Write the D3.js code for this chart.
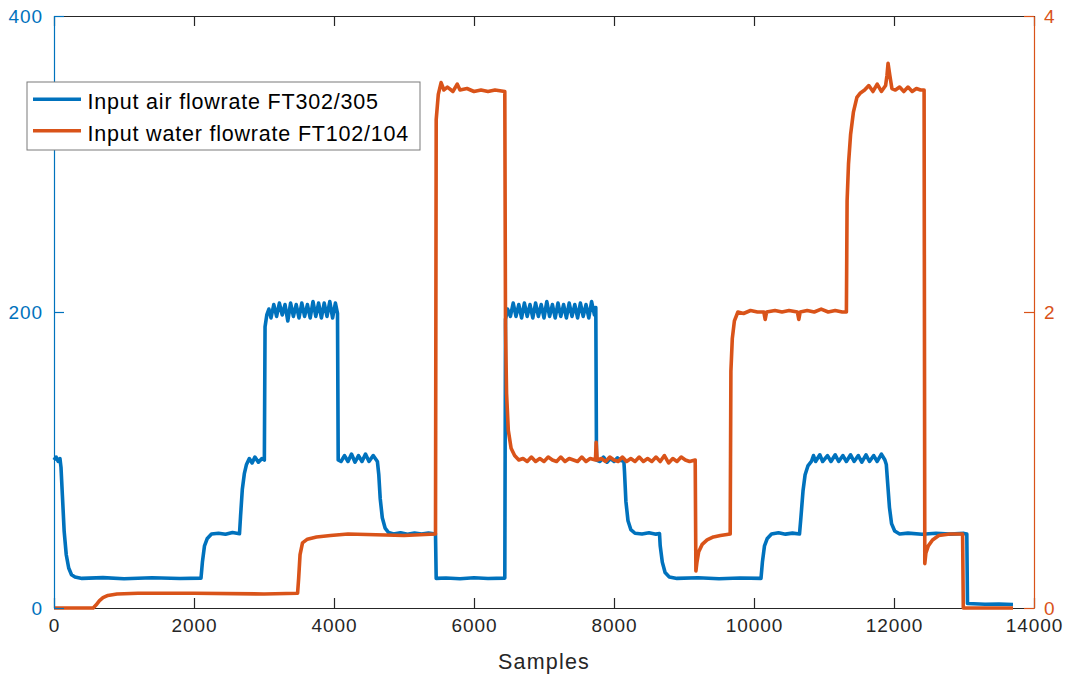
<!DOCTYPE html>
<html>
<head>
<meta charset="utf-8">
<script src="https://cdn.jsdelivr.net/npm/d3@7"></script>
<style>
  body { margin: 0; background: #fff; }
  svg { font-family: "Liberation Sans", Arial, sans-serif; }
</style>
</head>
<body>
<svg id="chart" width="1068" height="676"></svg>
<script>
// sample index / value pairs
var airFlow = [
  [0,100],[30,102],[60,99],[85,101],[100,95],[120,76],[145,52],[175,36],[210,27],[250,22.5],[300,21],[400,20],
  [700,20.5],[1000,19.8],[1400,20.4],[1800,19.9],[2100,20.2],
  [2120,31],[2150,42],[2190,47],[2250,50],[2350,50.5],[2450,49.8],[2550,51],[2650,50.2],
  [2665,62],[2690,80],[2720,91],[2750,97],[2790,101],[2830,98],[2870,102],[2920,98.5],[2970,101],[3005,100],
  [3015,190],[3040,198],[3070,202],[3100,196],[3140,205],[3180,197],[3220,206],[3260,198],[3300,205],[3340,194],
  [3380,206],[3420,197],[3460,205],[3500,196],[3540,206],[3580,197],[3620,205],[3660,196],[3700,207],
  [3740,197],[3780,206],[3820,196],[3860,206],[3900,197],[3940,207],[3980,196],[4020,206],[4050,199],
  [4060,100],[4100,99],[4150,103],[4200,99],[4250,104],[4300,98.5],[4350,103],[4400,99],[4450,104],
  [4500,99],[4560,103],[4620,99],[4640,90],[4660,74],[4690,61],[4730,54],[4780,51],[4850,50],
  [4950,50.8],[5050,49.8],[5150,50.6],[5250,49.9],[5350,50.7],[5450,50],
  [5460,20],[5600,20.3],[5800,19.8],[6000,20.4],[6200,19.9],[6440,20.2],
  [6450,195],[6480,202],[6520,197],[6560,206],[6600,197],[6640,205],[6680,196],[6720,206],[6760,197],
  [6800,205],[6840,196],[6880,206],[6920,197],[6960,205],[7000,196],[7040,207],[7080,197],[7120,205],
  [7160,196],[7200,206],[7240,197],[7280,205],[7320,196],[7360,206],[7400,197],[7440,205],[7480,196],
  [7520,206],[7560,197],[7600,205],[7640,196],[7680,207],[7720,198],[7740,203],
  [7750,100],[7800,99],[7850,102],[7900,98.5],[7950,101],[8000,99],[8050,101.5],[8100,99.5],[8140,100],
  [8150,92],[8170,72],[8200,59],[8240,53],[8300,50.5],[8400,50],[8500,50.8],[8600,49.9],[8650,50.3],
  [8660,42],[8690,31],[8730,24],[8790,21],[8900,20],[9200,20.4],[9500,19.8],[9800,20.3],[10100,20],
  [10120,31],[10150,42],[10190,47],[10250,50],[10350,50.8],[10450,49.9],[10550,50.6],[10650,50],
  [10670,61],[10700,79],[10730,90],[10770,96],[10820,99],[10850,103],[10880,99],[10940,103.5],[10980,99],
  [11050,103],[11100,99],[11160,103.5],[11210,99],[11270,103],[11320,99],[11380,103.5],[11430,99],
  [11490,103],[11540,98.5],[11600,103.5],[11650,99],[11710,103],[11760,99],[11820,104],[11870,100],
  [11890,97],[11910,84],[11935,68],[11965,57],[12010,52],[12080,50],[12200,50.6],[12400,49.8],
  [12600,50.5],[12800,49.9],[13000,50.4],[13040,50],
  [13050,3],[13300,2.5],[13500,2.7],[13700,2.4]
];

var waterFlow = [
  [0,0],[560,0],[600,0.02],[650,0.05],[700,0.07],[770,0.085],[900,0.095],[1200,0.1],[2000,0.1],
  [3000,0.095],[3480,0.1],[3495,0.2],[3515,0.36],[3550,0.44],[3620,0.465],[3750,0.48],[3950,0.49],
  [4200,0.5],[4600,0.495],[5000,0.49],[5450,0.5],
  [5460,3.3],[5490,3.47],[5530,3.55],[5570,3.5],[5620,3.52],[5700,3.49],[5760,3.54],[5800,3.5],
  [5900,3.51],[6000,3.49],[6100,3.5],[6200,3.49],[6300,3.5],[6440,3.49],
  [6450,1.9],[6465,1.45],[6490,1.2],[6530,1.08],[6580,1.03],[6640,1.0],[6700,1.01],[6760,0.99],
  [6820,1.02],[6880,0.99],[6940,1.01],[7000,0.99],[7060,1.02],[7120,1.0],[7180,0.99],[7240,1.02],
  [7300,0.99],[7360,1.01],[7420,1.0],[7480,0.99],[7540,1.02],[7600,0.99],[7660,1.01],[7735,1.0],
  [7745,1.12],[7760,1.0],[7820,1.01],[7880,0.99],[7940,1.02],[8000,1.0],[8060,0.99],[8120,1.02],
  [8180,0.99],[8240,1.01],[8300,0.99],[8360,1.02],[8420,0.99],[8480,1.01],[8540,0.99],[8600,1.02],
  [8660,0.99],[8720,1.03],[8780,0.98],[8840,1.01],[8900,0.99],[8960,1.02],[9020,1.0],[9080,0.99],
  [9160,1.0],
  [9170,0.25],[9185,0.31],[9210,0.38],[9260,0.43],[9330,0.46],[9420,0.48],[9520,0.49],[9660,0.5],
  [9670,1.6],[9690,1.82],[9720,1.94],[9770,2.0],[9850,1.99],[9950,2.01],[10050,2.0],[10140,2.0],
  [10160,1.95],[10180,2.0],[10300,2.01],[10400,2.0],[10500,2.01],[10620,2.0],[10640,1.95],[10660,2.0],
  [10760,2.01],[10860,2.0],[10960,2.02],[11060,2.0],[11160,2.01],[11260,2.0],[11320,2.0],
  [11330,2.75],[11350,3.0],[11380,3.2],[11420,3.35],[11470,3.45],[11520,3.48],[11580,3.5],[11640,3.53],
  [11700,3.49],[11760,3.54],[11820,3.49],[11880,3.53],[11900,3.6],[11915,3.68],[11940,3.6],[11970,3.51],
  [12020,3.5],[12080,3.52],[12140,3.49],[12200,3.52],[12260,3.49],[12320,3.51],[12380,3.5],[12430,3.5],
  [12440,0.3],[12455,0.37],[12490,0.42],[12550,0.46],[12640,0.49],[12800,0.5],[12980,0.5],
  [12990,0],[13700,0]
];

var xTicks = [0, 2000, 4000, 6000, 8000, 10000, 12000, 14000];
var leftTicks = [0, 200, 400];
var rightTicks = [0, 2, 4];
var seriesNames = ["Input air flowrate FT302/305", "Input water flowrate FT102/104"];
var seriesColors = ["#0072BD", "#D95319"];

var svg = d3.select("#chart"),
    margin = {top: 16, right: 34, bottom: 68, left: 54},
    width = +svg.attr("width") - margin.left - margin.right,
    height = +svg.attr("height") - margin.top - margin.bottom,
    g = svg.append("g").attr("transform", "translate(" + margin.left + "," + margin.top + ")");

var x = d3.scaleLinear().domain([0, 14000]).range([0, width]);
var yL = d3.scaleLinear().domain([0, 400]).range([height, 0]);
var yR = d3.scaleLinear().domain([0, 4]).range([height, 0]);

var axisGrey = "#262626";
var tickLen = 10;

function styleAxis(sel, color) {
  sel.selectAll("path.domain").attr("stroke", color).attr("stroke-width", 1.2);
  sel.selectAll(".tick line").attr("stroke", color).attr("stroke-width", 1.2);
  sel.selectAll(".tick text").attr("fill", color)
      .style("font-size", "19px").style("letter-spacing", "0.9px");
}

// top axis (ticks only)
g.append("g")
    .call(d3.axisTop(x).tickValues(xTicks).tickSize(-tickLen).tickSizeOuter(0).tickFormat(""))
    .call(styleAxis, axisGrey);

// bottom axis
g.append("g")
    .attr("transform", "translate(0," + height + ")")
    .call(d3.axisBottom(x).tickValues(xTicks).tickSize(-tickLen).tickSizeOuter(0).tickPadding(11).tickFormat(d3.format("d")))
    .call(styleAxis, axisGrey)
    .selectAll(".tick text").attr("dy", "0.71em");

// lines
var line = function(yScale) {
  return d3.line().x(function(d) { return x(d[0]); }).y(function(d) { return yScale(d[1]); });
};

g.append("path")
    .datum(airFlow)
    .attr("fill", "none")
    .attr("stroke", seriesColors[0])
    .attr("stroke-width", 3.6)
    .attr("stroke-linejoin", "round")
    .attr("d", line(yL));

g.append("path")
    .datum(waterFlow)
    .attr("fill", "none")
    .attr("stroke", seriesColors[1])
    .attr("stroke-width", 3.6)
    .attr("stroke-linejoin", "round")
    .attr("d", line(yR));

// left axis
g.append("g")
    .call(d3.axisLeft(yL).tickValues(leftTicks).tickSize(-tickLen).tickSizeOuter(0).tickPadding(11))
    .call(styleAxis, seriesColors[0]);

// right axis
g.append("g")
    .attr("transform", "translate(" + width + ",0)")
    .call(d3.axisRight(yR).tickValues(rightTicks).tickSize(-tickLen).tickSizeOuter(0).tickPadding(10).tickFormat(d3.format("d")))
    .call(styleAxis, seriesColors[1]);

// x label
g.append("text")
    .attr("x", width / 2)
    .attr("y", height + 61)
    .attr("text-anchor", "middle")
    .attr("fill", axisGrey)
    .style("font-size", "21.5px")
    .style("letter-spacing", "1.2px")
    .text("Samples");

/* legend */
var legend = svg.append("g").attr("transform", "translate(27,82)");
legend.append("rect")
    .attr("width", 393)
    .attr("height", 68)
    .attr("fill", "#fff")
    .attr("stroke", "#7a7a7a")
    .attr("stroke-width", 1);

var item = legend.selectAll(".item")
    .data(seriesNames)
    .enter().append("g")
      .attr("class", "item")
      .attr("transform", function(d, i) { return "translate(0," + (17.3 + i * 31.4) + ")"; });

item.append("line")
    .attr("x1", 6)
    .attr("x2", 54)
    .attr("stroke", function(d, i) { return seriesColors[i]; })
    .attr("stroke-width", 3.6);

item.append("text")
    .attr("x", 60.5)
    .attr("y", 10)
    .attr("fill", "#000")
    .style("font-size", "21.5px")
    .style("letter-spacing", "0.8px")
    .text(function(d) { return d; });
</script>
</body>
</html>
